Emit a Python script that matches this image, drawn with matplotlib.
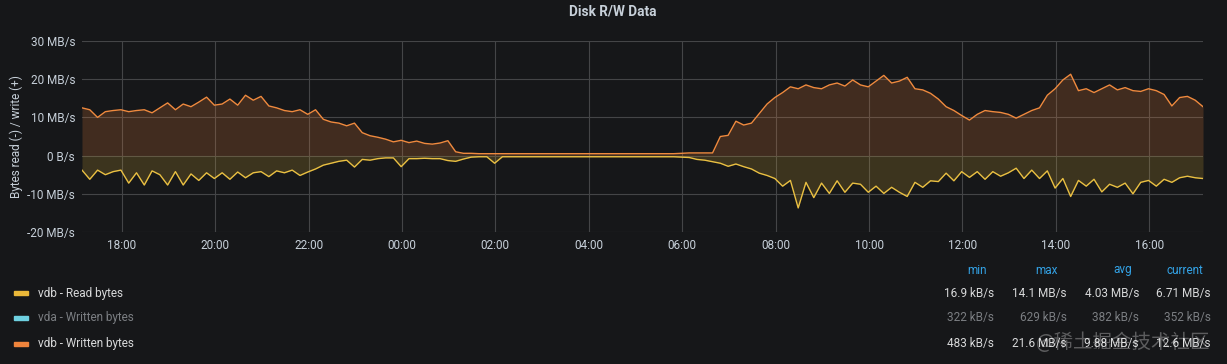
import numpy as np
import matplotlib
matplotlib.use("Agg")
import matplotlib.pyplot as plt
from matplotlib.ticker import FuncFormatter, FixedLocator

# ---------------- data ----------------
# sample times: every 10 min starting 17:09 (hours, continuing past 24)
start_hour = 17.15
step_hours = 10 / 60

written_mb = [
    12.5, 12.0, 10.0, 11.5, 11.8, 12.0,
    11.5, 11.8, 12.0, 11.2, 12.5, 13.8,
    12.0, 13.5, 12.8, 14.0, 15.3, 13.2,
    13.5, 14.8, 13.2, 15.8, 14.5, 15.5,
    13.0, 12.5, 11.8, 11.5, 12.0, 10.8,
    12.0, 9.5, 8.8, 8.5, 7.8, 8.5,
    6.0, 5.2, 4.8, 4.3, 3.6, 4.0,
    3.4, 3.8, 3.2, 3.0, 3.3, 3.9,
    1.0, 0.6, 0.6, 0.5, 0.5, 0.5,
    0.5, 0.5, 0.5, 0.5, 0.5, 0.5,
    0.5, 0.5, 0.5, 0.5, 0.5, 0.5,
    0.5, 0.5, 0.5, 0.5, 0.5, 0.5,
    0.5, 0.5, 0.5, 0.5, 0.5, 0.6,
    0.7, 0.7, 0.7, 0.7, 5.0, 5.3,
    9.0, 8.0, 8.5, 11.0, 13.5, 15.2,
    16.5, 18.0, 17.5, 18.5, 17.8, 17.5,
    18.5, 19.0, 18.2, 19.8, 18.5, 18.0,
    19.5, 21.0, 19.0, 19.5, 20.5, 17.5,
    17.2, 16.3, 14.8, 12.8, 11.8, 10.5,
    9.3, 10.8, 11.8, 11.5, 11.3, 10.8,
    9.8, 10.8, 11.8, 12.5, 15.8, 17.5,
    19.8, 21.3, 17.0, 17.5, 16.5, 17.5,
    18.5, 17.2, 17.8, 17.0, 16.8, 17.5,
    17.0, 16.0, 13.0, 15.2, 15.5, 14.5,
    12.8,
]

read_mb = [
    -3.8, -6.2, -3.8, -5.0, -4.2, -3.8,
    -7.2, -4.5, -7.7, -4.0, -5.0, -7.7,
    -4.2, -7.7, -4.8, -6.5, -4.5, -6.0,
    -4.5, -6.2, -4.3, -5.8, -4.5, -4.2,
    -5.5, -4.0, -4.5, -3.8, -5.2, -4.3,
    -3.5, -2.5, -2.0, -1.5, -1.2, -3.0,
    -1.0, -1.2, -0.8, -0.6, -0.6, -2.9,
    -0.8, -0.8, -0.7, -0.8, -0.8, -1.3,
    -1.5, -0.9, -0.4, -0.3, -0.3, -2.0,
    -0.3, -0.3, -0.3, -0.3, -0.3, -0.3,
    -0.3, -0.3, -0.3, -0.3, -0.3, -0.3,
    -0.3, -0.3, -0.3, -0.3, -0.3, -0.3,
    -0.3, -0.3, -0.3, -0.3, -0.3, -0.4,
    -0.5, -1.0, -1.2, -1.6, -2.0, -2.8,
    -2.2, -2.9, -3.5, -4.6, -5.2, -6.0,
    -8.0, -6.5, -13.7, -7.0, -11.0, -7.2,
    -9.9, -6.6, -9.6, -7.2, -7.5, -9.6,
    -8.0, -9.9, -8.3, -9.6, -10.7, -7.0,
    -8.3, -6.6, -6.8, -4.6, -6.6, -4.2,
    -5.7, -4.2, -6.2, -4.2, -5.4, -4.5,
    -3.3, -6.0, -3.8, -6.0, -4.0, -8.5,
    -6.0, -10.7, -6.5, -8.0, -6.2, -9.5,
    -7.5, -8.3, -7.2, -10.0, -7.0, -6.5,
    -8.0, -6.2, -7.0, -5.8, -5.4, -5.8,
    -6.0,
]

y_ticks = [-20, -10, 0, 10, 20, 30]
x_ticks = [18, 20, 22, 24, 26, 28, 30, 32, 34, 36, 38, 40]

legend_names = ["vdb - Read bytes", "vda - Written bytes", "vdb - Written bytes"]
legend_colors = ["#EAB839", "#6ED0E0", "#EF843C"]
legend_hidden = [False, True, False]
stat_headers = ["min", "max", "avg", "current"]
stat_values = [
    ["16.9 kB/s", "14.1 MB/s", "4.03 MB/s", "6.71 MB/s"],
    ["322 kB/s", "629 kB/s", "382 kB/s", "352 kB/s"],
    ["483 kB/s", "21.6 MB/s", "9.88 MB/s", "12.6 MB/s"],
]

# ---------------- drawing ----------------
BG = "#161719"
TXT = "#c7d0d9"
W, H = 1227, 364
plt.rcParams['font.family'] = ['Roboto', 'DejaVu Sans']

fig = plt.figure(figsize=(W / 100, H / 100), dpi=100, facecolor=BG)
ax = fig.add_axes([82 / W, 1 - 232 / H, (1203 - 82) / W, (232 - 41) / H])
ax.set_facecolor(BG)

t = start_hour + step_hours * np.arange(len(written_mb))
w = np.array(written_mb)
r = np.array(read_mb)

ax.fill_between(t, 0, w, color="#EF843C", alpha=0.2, lw=0)
ax.plot(t, w, color="#F08A3E", lw=1.0)
ax.fill_between(t, 0, r, color="#EAB839", alpha=0.18, lw=0)
ax.plot(t, r, color="#EAC042", lw=1.0)

ax.set_xlim(start_hour, start_hour + 24)
ax.set_ylim(-20, 30)
ax.yaxis.set_major_locator(FixedLocator(y_ticks))
ax.xaxis.set_major_locator(FixedLocator(x_ticks))


def yfmt(v, pos):
    return "0 B/s" if v == 0 else f"{int(v)} MB/s"


def xfmt(v, pos):
    return f"{int(v) % 24:02d}:00"


ax.yaxis.set_major_formatter(FuncFormatter(yfmt))
ax.xaxis.set_major_formatter(FuncFormatter(xfmt))
ax.grid(True, color="#444547", lw=0.8)
ax.set_axisbelow(True)
for s in ax.spines.values():
    s.set_visible(False)
ax.tick_params(length=0, colors=TXT, labelsize=8.5, pad=5)
ax.set_ylabel("Bytes read (-) / write (+)", color=TXT, fontsize=8.5, labelpad=3)

fig.text(613 / W, 1 - 11 / H, "Disk R/W Data", color=TXT, fontsize=9.8,
         fontweight="bold", ha="center", va="center")

# legend table
header_right = [987, 1058, 1132, 1203]
value_right = [994, 1067, 1139, 1211]
for x, hname in zip(header_right, stat_headers):
    fig.text(x / W, 1 - 270 / H, hname, color="#33a2e5", fontsize=8.5,
             ha="right", va="center")

row_y = [293, 318, 344]
for i, (name, col, hid) in enumerate(zip(legend_names, legend_colors, legend_hidden)):
    y = 1 - row_y[i] / H
    fig.patches.append(plt.Rectangle((14 / W, y - 2 / H), 14 / W, 4 / H,
                                     transform=fig.transFigure, color=col))
    tc = "#7b7e82" if hid else "#d8d9da"
    fig.text(38 / W, y, name, color=tc, fontsize=8.5, ha="left", va="center")
    for x, val in zip(value_right, stat_values[i]):
        fig.text(x / W, y, val, color=tc, fontsize=8.5, ha="right", va="center")

fig.text(1210 / W, 1 - 342 / H, "@稀土掘金技术社区", color="white", alpha=0.3,
         fontsize=14, ha="right", va="center",
         family=['Noto Sans CJK SC', 'DejaVu Sans'])

fig.savefig("out.png", dpi=100, facecolor=BG)
